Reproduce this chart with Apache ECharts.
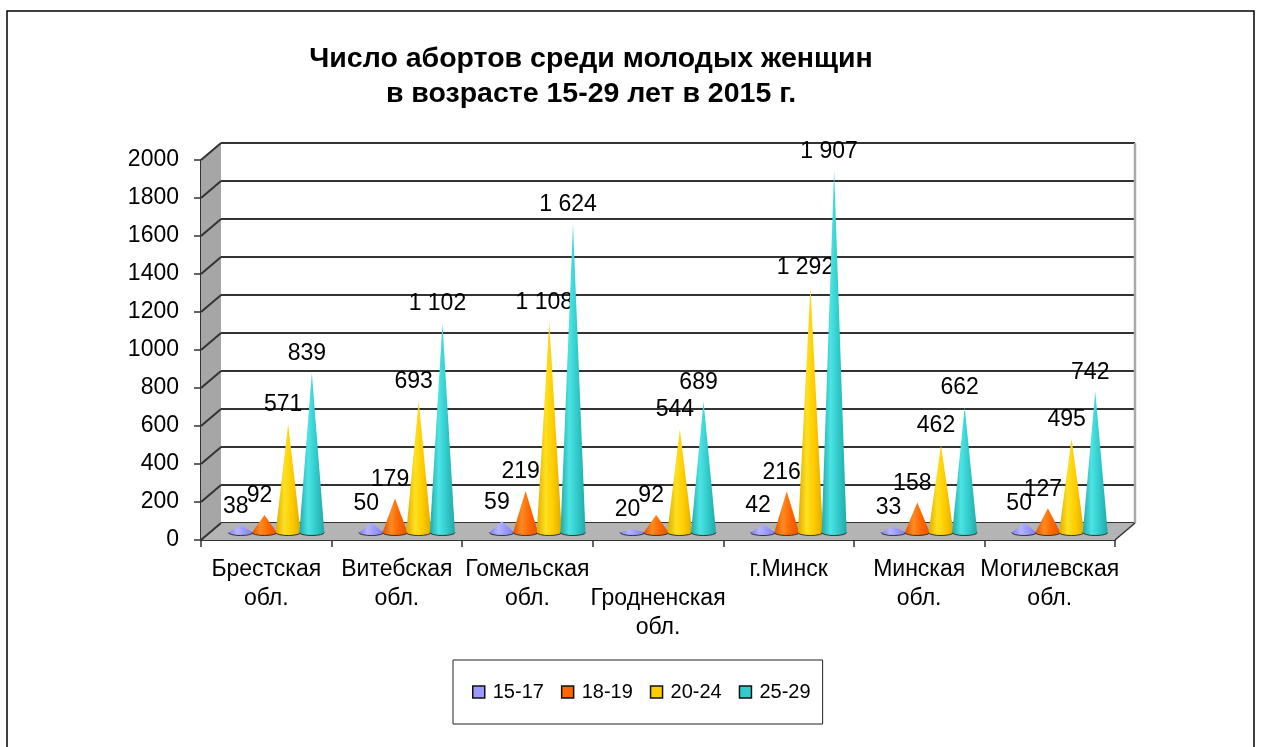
<!DOCTYPE html>
<html>
<head>
<meta charset="utf-8">
<style>
  html, body { margin: 0; padding: 0; background: #fff; }
  #main { width: 1261px; height: 747px; }
</style>
<script src="https://cdn.jsdelivr.net/npm/echarts@6/dist/echarts.min.js"></script>
</head>
<body>
<div id="main"></div>
<script>
const regions = ["Брестская обл.", "Витебская обл.", "Гомельская обл.", "Гродненская обл.", "г.Минск", "Минская обл.", "Могилевская обл."];
const age15 = [38, 50, 59, 20, 42, 33, 50];
const age18 = [92, 179, 219, 92, 216, 158, 127];
const age20 = [571, 693, 1108, 544, 1292, 462, 495];
const age25 = [839, 1102, 1624, 689, 1907, 662, 742];
const yTicks = [0, 200, 400, 600, 800, 1000, 1200, 1400, 1600, 1800, 2000];

const ageGroups = [
  { name: "15-17", values: age15, color: "#9999ff", dark: "#7c7ce8", light: "#b4b4ff" },
  { name: "18-19", values: age18, color: "#ff6600", dark: "#e05400", light: "#ff8a20" },
  { name: "20-24", values: age20, color: "#ffcc00", dark: "#e0aa00", light: "#ffe020" },
  { name: "25-29", values: age25, color: "#33cccc", dark: "#22a8a8", light: "#4ce4e4" },
];

// depth of the fake 3d box, front axis -> back wall
const depthX = 20;
const depthY = -17;
const coneWidth = 25;
const coneStep = 23.7;

function fmt(v) {
  return v >= 1000 ? String(v).replace(/(\d)(\d{3})$/, "$1 $2") : String(v);
}

function coneItem(idx, params, api) {
  const cat = api.value(0);
  const val = api.value(1);
  const base = api.coord([cat, 0]);
  const top = api.coord([cat, val]);
  const x = base[0] + depthX / 2 + (idx - 1.5) * coneStep;
  const y = base[1] + depthY / 2 + 1;
  const tipY = top[1] + depthY / 2 + 1;
  const r = coneWidth / 2;
  const g = ageGroups[idx];
  return {
    type: "group",
    children: [
      {
        type: "path",
        shape: {
          pathData: `M${x - r} ${y} L${x} ${tipY} L${x + r} ${y} A${r} 3 0 0 1 ${x - r} ${y} Z`,
        },
        style: {
          fill: new echarts.graphic.LinearGradient(0, 0, 1, 0, [
            { offset: 0, color: g.dark },
            { offset: 0.35, color: g.light },
            { offset: 0.65, color: g.color },
            { offset: 1, color: g.dark },
          ]),
        },
      },
      {
        type: "path",
        shape: { pathData: `M${x - r} ${y} A${r} 3 0 0 0 ${x + r} ${y}` },
        style: { fill: "none", stroke: "#333", lineWidth: 1 },
      },
      {
        type: "text",
        style: {
          text: fmt(val),
          x: x - 5,
          y: tipY - 19,
          align: "center",
          verticalAlign: "middle",
          font: "23px 'Liberation Sans'",
          fill: "#000",
        },
        z2: 10,
      },
    ],
  };
}

// walls and floor, drawn from the front axis coordinates
function boxItem(params, api) {
  const band = api.size([1, 0])[0];
  const p0 = api.coord([0, 0]);
  p0[0] -= band / 2;
  const p1 = api.coord([6, 0]);
  p1[0] += band / 2;
  const pt = [p0[0], api.coord([0, 2000])[1]];
  const backRightTop = [p1[0] + depthX, pt[1] + depthY];
  const backRightBottom = [p1[0] + depthX, p1[1] + depthY];
  return {
    type: "group",
    children: [
      {
        type: "polygon",
        shape: { points: [p0, pt, [pt[0] + depthX, pt[1] + depthY], [p0[0] + depthX, p0[1] + depthY]] },
        style: { fill: "#a6a6a6" },
      },
      {
        type: "polygon",
        shape: { points: [p0, p1, backRightBottom, [p0[0] + depthX, p0[1] + depthY]] },
        style: { fill: "#b4b4b4" },
      },
      {
        type: "line",
        shape: { x1: backRightTop[0], y1: backRightTop[1], x2: backRightBottom[0], y2: backRightBottom[1] },
        style: { stroke: "#aaa", lineWidth: 2.5 },
      },
      {
        type: "line",
        shape: { x1: p1[0], y1: p1[1], x2: backRightBottom[0], y2: backRightBottom[1] },
        style: { stroke: "#333", lineWidth: 1.5 },
      },
    ],
  };
}

function wallTickItem(params, api) {
  const band = api.size([1, 0])[0];
  const p = api.coord([0, api.value(0)]);
  const x = p[0] - band / 2;
  return {
    type: "line",
    shape: { x1: x, y1: p[1], x2: x + depthX, y2: p[1] + depthY },
    style: { stroke: "#333", lineWidth: 2 },
  };
}

const frontGrid = { left: 201, width: 914, top: 160, height: 380 };
const backGrid = { left: 221, width: 914, top: 143, height: 380 };

const option = {
  animation: false,
  backgroundColor: "#fff",
  graphic: [
    {
      // page frame, its bottom edge runs off the picture
      type: "rect",
      silent: true,
      z: -1,
      shape: { x: 7, y: 11, width: 1247, height: 760 },
      style: { fill: "none", stroke: "#000", lineWidth: 1.5 },
    },
  ],
  title: {
    text: "Число абортов среди молодых женщин\nв возрасте 15-29 лет в 2015 г.",
    left: 586,
    top: 37,
    textAlign: "center",
    textStyle: { fontFamily: "Liberation Sans", fontSize: 28.5, fontWeight: "bold", color: "#000", lineHeight: 35 },
  },
  legend: {
    left: 453,
    top: 660,
    orient: "horizontal",
    padding: [22, 12, 22, 19],
    borderColor: "#222",
    borderWidth: 1,
    itemWidth: 12,
    itemHeight: 12,
    itemGap: 17,
    icon: "rect",
    data: ageGroups.map((g) => ({
      name: g.name,
      itemStyle: { color: g.color, borderColor: "#111", borderWidth: 1.5 },
    })),
    textStyle: { fontFamily: "Liberation Sans", fontSize: 20, color: "#000", padding: [0, 0, 0, 3] },
  },
  grid: [frontGrid, backGrid],
  xAxis: [
    {
      type: "category",
      gridIndex: 0,
      data: regions,
      axisLine: { lineStyle: { color: "#333", width: 2 } },
      axisTick: { show: true, length: 7, lineStyle: { color: "#333", width: 1.5 } },
      axisLabel: {
        interval: 0,
        margin: 15,
        fontFamily: "Liberation Sans",
        fontSize: 23,
        color: "#000",
        lineHeight: 29,
        formatter: (v, i) => (i === 3 ? "\n" : "") + v.replace(" ", "\n"),
      },
    },
    { type: "category", gridIndex: 1, data: regions, show: false },
  ],
  yAxis: [
    {
      type: "value",
      gridIndex: 0,
      min: 0,
      max: 2000,
      interval: 200,
      splitLine: { show: false },
      axisLine: { show: true, lineStyle: { color: "#333", width: 2 } },
      axisTick: { show: true, length: 7, lineStyle: { color: "#333", width: 1.5 } },
      axisLabel: {
        margin: 22,
        padding: [3, 0, 0, 0],
        fontFamily: "Liberation Sans",
        fontSize: 23,
        color: "#000",
        formatter: (v) => String(v),
      },
    },
    {
      type: "value",
      gridIndex: 1,
      min: 0,
      max: 2000,
      interval: 200,
      axisLine: { show: false },
      axisTick: { show: false },
      axisLabel: { show: false },
      splitLine: { show: true, lineStyle: { color: "#333", width: 2 } },
    },
  ],
  series: [
    {
      type: "custom",
      silent: true,
      xAxisIndex: 0,
      yAxisIndex: 0,
      z: 1,
      renderItem: boxItem,
      data: [[0]],
    },
    {
      type: "custom",
      silent: true,
      xAxisIndex: 0,
      yAxisIndex: 0,
      z: 2,
      renderItem: wallTickItem,
      data: yTicks.map((t) => [t]),
    },
    ...ageGroups.map((g, idx) => ({
      type: "custom",
      name: g.name,
      xAxisIndex: 0,
      yAxisIndex: 0,
      z: 5 + idx,
      itemStyle: { color: g.color },
      encode: { x: 0, y: 1 },
      renderItem: (params, api) => coneItem(idx, params, api),
      data: g.values.map((v, i) => [i, v]),
    })),
  ],
};

var myChart = echarts.init(document.getElementById("main"));
myChart.setOption(option);
</script>
</body>
</html>
